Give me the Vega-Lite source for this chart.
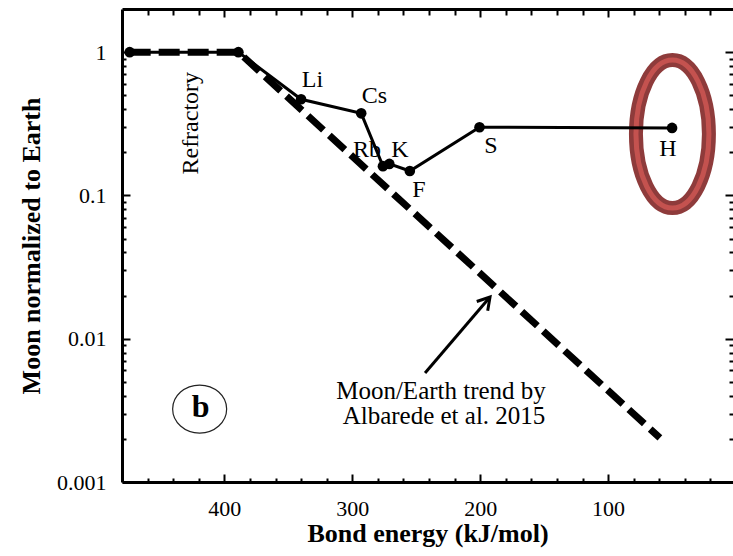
{
  "$schema": "https://vega.github.io/schema/vega-lite/v6.json",
  "width": 611,
  "height": 473,
  "autosize": {"type": "none"},
  "padding": {"left": 122, "top": 9, "right": 0, "bottom": 74},
  "background": "white",
  "config": {
    "view": {"stroke": null},
    "axis": {
      "grid": false,
      "domainColor": "black",
      "domainWidth": 3,
      "tickColor": "black",
      "tickWidth": 2,
      "labelColor": "black",
      "labelFont": "Liberation Serif",
      "labelFontSize": 22,
      "labelOverlap": false,
      "labelFlush": false,
      "labelBound": false,
      "titleFont": "Liberation Serif",
      "titleFontSize": 26,
      "titleFontWeight": "bold",
      "titleColor": "black"
    }
  },
  "datasets": {
    "solid": [
      {"x": 474, "y": 1},
      {"x": 389, "y": 1},
      {"x": 340, "y": 0.469},
      {"x": 293, "y": 0.374},
      {"x": 276, "y": 0.16},
      {"x": 271, "y": 0.166},
      {"x": 255, "y": 0.148},
      {"x": 200.5, "y": 0.299},
      {"x": 50, "y": 0.296}
    ],
    "dash": [
      {"x": 474, "y": 1},
      {"x": 389, "y": 1},
      {"x": 59.5, "y": 0.00203}
    ],
    "labels": [
      {"x": 331.1, "y": 0.571, "t": "Li"},
      {"x": 282.6, "y": 0.441, "t": "Cs"},
      {"x": 288.5, "y": 0.186, "t": "Rb"},
      {"x": 262.7, "y": 0.186, "t": "K"},
      {"x": 247.8, "y": 0.0974, "t": "F"},
      {"x": 191.5, "y": 0.1967, "t": "S"},
      {"x": 53.2, "y": 0.188, "t": "H"}
    ],
    "notes": [
      {"x": 230.6, "y": 0.003795, "t": "Moon/Earth trend by"},
      {"x": 228.3, "y": 0.00254, "t": "Albarede et al. 2015"}
    ],
    "refr": [{"x": 420.6, "y": 0.319, "t": "Refractory"}],
    "blabel": [{"x": 418.6, "y": 0.002855, "t": "b"}],
    "bcircle": [{"x": 419.3, "y": 0.00323}],
    "arrow": [{"x": 243.1, "y": 0.005762}, {"x": 192.3, "y": 0.01954}],
    "arrowhead": [{"x": 192.3, "y": 0.01954}],
    "ellipse": [{"x": 49.7, "y": 0.268}]
  },
  "layer": [
    {
      "data": {"name": "ellipse"},
      "mark": {"type": "point", "shape": "M0,-1C0.272,-1,0.493,-0.552,0.493,0C0.493,0.552,0.272,1,0,1C-0.272,1,-0.493,0.552,-0.493,0C-0.493,-0.552,-0.272,-1,0,-1Z", "filled": false, "size": 21904, "stroke": "#8E3B3B", "strokeWidth": 14, "opacity": 1},
      "encoding": {
        "x": {"field": "x", "type": "quantitative", "scale": {"domain": [2.35, 480], "reverse": true, "nice": false, "zero": false},
              "axis": {"orient": "top", "values": [100, 200, 300, 400], "labels": false, "tickSize": -8, "title": null, "domain": true}},
        "y": {"field": "y", "type": "quantitative", "scale": {"type": "log", "domain": [0.001, 2], "nice": false},
              "axis": {"orient": "right", "values": [0.001, 0.01, 0.1, 1], "labels": false, "tickSize": -8, "title": null, "domain": false}}
      }
    },
    {
      "data": {"name": "ellipse"},
      "mark": {"type": "point", "shape": "M0,-1C0.272,-1,0.493,-0.552,0.493,0C0.493,0.552,0.272,1,0,1C-0.272,1,-0.493,0.552,-0.493,0C-0.493,-0.552,-0.272,-1,0,-1Z", "filled": false, "size": 21904, "stroke": "#C4524F", "strokeWidth": 5, "opacity": 1},
      "encoding": {
        "x": {"field": "x", "type": "quantitative", "scale": {"domain": [2.35, 480], "reverse": true, "nice": false, "zero": false},
              "axis": {"orient": "top", "values": [20, 40, 60, 80, 120, 140, 160, 180, 220, 240, 260, 280, 320, 340, 360, 380, 420, 440, 460], "labels": false, "tickSize": -6, "title": null, "domain": false}},
        "y": {"field": "y", "type": "quantitative", "scale": {"type": "log", "domain": [0.001, 2], "nice": false},
              "axis": {"orient": "right", "values": [0.002, 0.003, 0.004, 0.005, 0.006, 0.007, 0.008, 0.009, 0.02, 0.03, 0.04, 0.05, 0.06, 0.07, 0.08, 0.09, 0.2, 0.3, 0.4, 0.5, 0.6, 0.7, 0.8, 0.9], "labels": false, "tickSize": -4, "title": null, "domain": false}}
      }
    },
    {
      "data": {"name": "solid"},
      "mark": {"type": "line", "color": "black", "strokeWidth": 3},
      "encoding": {
        "x": {"field": "x", "type": "quantitative", "scale": {"domain": [2.35, 480], "reverse": true, "nice": false, "zero": false},
              "axis": {"orient": "bottom", "values": [0, 100, 200, 300, 400], "tickSize": -8, "labelPadding": 24, "title": "Bond energy (kJ/mol)", "titlePadding": 1}},
        "y": {"field": "y", "type": "quantitative", "scale": {"type": "log", "domain": [0.001, 2], "nice": false},
              "axis": {"orient": "left", "values": [0.001, 0.01, 0.1, 1], "tickSize": -8, "labelPadding": 24, "labelExpr": "datum.value > 0.5 ? '1' : datum.value > 0.05 ? '0.1' : datum.value > 0.005 ? '0.01' : '0.001'", "title": "Moon normalized to Earth", "titlePadding": 12}}
      }
    },
    {
      "data": {"name": "dash"},
      "mark": {"type": "line", "color": "black", "strokeWidth": 7, "strokeDash": [21, 8]},
      "encoding": {
        "x": {"field": "x", "type": "quantitative", "scale": {"domain": [2.35, 480], "reverse": true, "nice": false, "zero": false},
              "axis": {"orient": "bottom", "values": [20, 40, 60, 80, 120, 140, 160, 180, 220, 240, 260, 280, 320, 340, 360, 380, 420, 440, 460], "labels": false, "tickSize": -4, "title": null, "domain": false}},
        "y": {"field": "y", "type": "quantitative", "scale": {"type": "log", "domain": [0.001, 2], "nice": false},
              "axis": {"orient": "left", "values": [0.002, 0.003, 0.004, 0.005, 0.006, 0.007, 0.008, 0.009, 0.02, 0.03, 0.04, 0.05, 0.06, 0.07, 0.08, 0.09, 0.2, 0.3, 0.4, 0.5, 0.6, 0.7, 0.8, 0.9], "labels": false, "tickSize": -4, "title": null, "domain": false}}
      }
    },
    {
      "data": {"name": "solid"},
      "mark": {"type": "point", "shape": "circle", "filled": true, "color": "black", "size": 113, "opacity": 1},
      "encoding": {
        "x": {"field": "x", "type": "quantitative", "scale": {"domain": [2.35, 480], "reverse": true, "nice": false, "zero": false}, "axis": null},
        "y": {"field": "y", "type": "quantitative", "scale": {"type": "log", "domain": [0.001, 2], "nice": false}, "axis": null}
      }
    },
    {
      "data": {"name": "labels"},
      "mark": {"type": "text", "font": "Liberation Serif", "fontSize": 24, "color": "black", "align": "center", "baseline": "alphabetic"},
      "encoding": {
        "x": {"field": "x", "type": "quantitative", "scale": {"domain": [2.35, 480], "reverse": true, "nice": false, "zero": false}, "axis": null},
        "y": {"field": "y", "type": "quantitative", "scale": {"type": "log", "domain": [0.001, 2], "nice": false}, "axis": null},
        "text": {"field": "t"}
      }
    },
    {
      "data": {"name": "notes"},
      "mark": {"type": "text", "font": "Liberation Serif", "fontSize": 25, "color": "black", "align": "center", "baseline": "alphabetic"},
      "encoding": {
        "x": {"field": "x", "type": "quantitative", "scale": {"domain": [2.35, 480], "reverse": true, "nice": false, "zero": false}, "axis": null},
        "y": {"field": "y", "type": "quantitative", "scale": {"type": "log", "domain": [0.001, 2], "nice": false}, "axis": null},
        "text": {"field": "t"}
      }
    },
    {
      "data": {"name": "refr"},
      "mark": {"type": "text", "font": "Liberation Serif", "fontSize": 24, "color": "black", "align": "center", "baseline": "alphabetic", "angle": 270},
      "encoding": {
        "x": {"field": "x", "type": "quantitative", "scale": {"domain": [2.35, 480], "reverse": true, "nice": false, "zero": false}, "axis": null},
        "y": {"field": "y", "type": "quantitative", "scale": {"type": "log", "domain": [0.001, 2], "nice": false}, "axis": null},
        "text": {"field": "t"}
      }
    },
    {
      "data": {"name": "bcircle"},
      "mark": {"type": "point", "shape": "M0,-0.889C0.552,-0.889,1,-0.491,1,0C1,0.491,0.552,0.889,0,0.889C-0.552,0.889,-1,0.491,-1,0C-1,-0.491,-0.552,-0.889,0,-0.889Z", "filled": false, "size": 2916, "stroke": "#222222", "strokeWidth": 1.2, "opacity": 1},
      "encoding": {
        "x": {"field": "x", "type": "quantitative", "scale": {"domain": [2.35, 480], "reverse": true, "nice": false, "zero": false}, "axis": null},
        "y": {"field": "y", "type": "quantitative", "scale": {"type": "log", "domain": [0.001, 2], "nice": false}, "axis": null}
      }
    },
    {
      "data": {"name": "blabel"},
      "mark": {"type": "text", "font": "Liberation Serif", "fontSize": 32, "fontWeight": "bold", "color": "black", "align": "center", "baseline": "alphabetic"},
      "encoding": {
        "x": {"field": "x", "type": "quantitative", "scale": {"domain": [2.35, 480], "reverse": true, "nice": false, "zero": false}, "axis": null},
        "y": {"field": "y", "type": "quantitative", "scale": {"type": "log", "domain": [0.001, 2], "nice": false}, "axis": null},
        "text": {"field": "t"}
      }
    },
    {
      "data": {"name": "arrow"},
      "mark": {"type": "line", "color": "black", "strokeWidth": 3},
      "encoding": {
        "x": {"field": "x", "type": "quantitative", "scale": {"domain": [2.35, 480], "reverse": true, "nice": false, "zero": false}, "axis": null},
        "y": {"field": "y", "type": "quantitative", "scale": {"type": "log", "domain": [0.001, 2], "nice": false}, "axis": null}
      }
    },
    {
      "data": {"name": "arrowhead"},
      "mark": {"type": "point", "shape": "M-0.45,0.75L0,0L0.45,0.75", "filled": false, "size": 1024, "stroke": "black", "strokeWidth": 3, "angle": 40.5, "opacity": 1},
      "encoding": {
        "x": {"field": "x", "type": "quantitative", "scale": {"domain": [2.35, 480], "reverse": true, "nice": false, "zero": false}, "axis": null},
        "y": {"field": "y", "type": "quantitative", "scale": {"type": "log", "domain": [0.001, 2], "nice": false}, "axis": null}
      }
    }
  ],
  "resolve": {"axis": {"x": "independent", "y": "independent"}}
}
